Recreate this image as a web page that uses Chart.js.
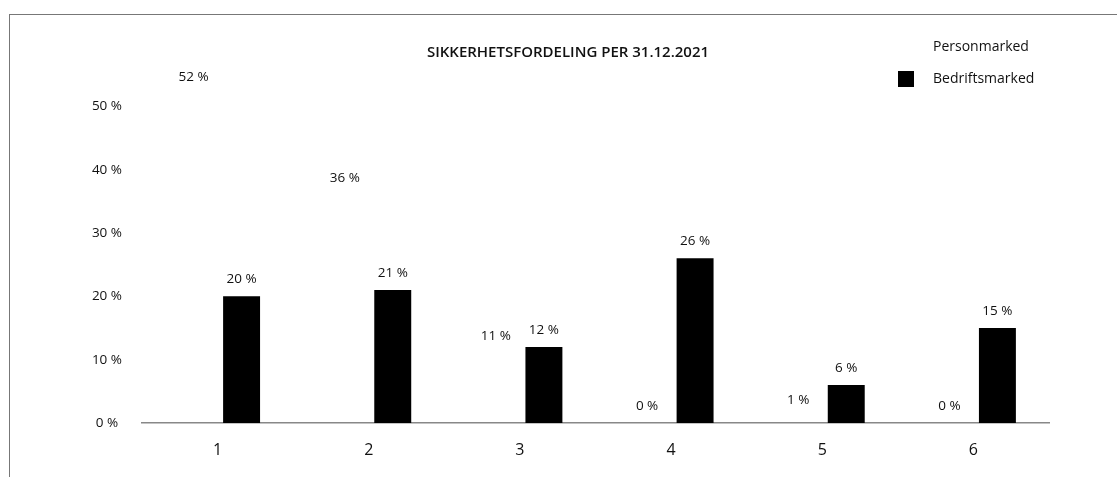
<!DOCTYPE html>
<html lang="no">
<head>
    <meta charset="UTF-8">
    <title>Sikkerhetsfordeling</title>
    <style>
        body {
            margin: 0;
            padding: 0;
            background: #fff;
            overflow: hidden;
            font-family: "Open Sans", sans-serif;
        }
        .wrap {
            position: relative;
            width: 1117px;
            height: 477px;
        }
        .frame {
            position: absolute;
            left: 9px;
            top: 14px;
            right: 0;
            bottom: 0;
            border-top: 1px solid #777;
            border-left: 1px solid #777;
        }
        canvas {
            position: absolute;
            left: 0;
            top: 0;
        }
    </style>
    <script src="https://cdn.jsdelivr.net/npm/chart.js"></script>
</head>
<body>
    <div class="wrap">
        <div class="frame"></div>
        <canvas id="chart" width="1117" height="477"></canvas>
    </div>
    <script>
        const chartTitle = 'SIKKERHETSFORDELING PER 31.12.2021';
        const categories = ['1', '2', '3', '4', '5', '6'];
        const personmarked = [52, 36, 11, 0, 1, 0];
        const bedriftsmarked = [20, 21, 12, 26, 6, 15];
        const yTicks = [0, 10, 20, 30, 40, 50];

        const font = '"Open Sans", sans-serif';

        // value labels above each bar, title and legend drawn onto the canvas
        const overlay = {
            id: 'overlay',
            afterDraw(chart) {
                const ctx = chart.ctx;
                ctx.save();
                ctx.fillStyle = '#111';
                ctx.font = '13.5px ' + font;
                ctx.textAlign = 'center';
                ctx.textBaseline = 'middle';
                chart.data.datasets.forEach((ds, i) => {
                    chart.getDatasetMeta(i).data.forEach((bar, j) => {
                        ctx.fillText(ds.data[j] + ' %', bar.x, bar.y - 17);
                    });
                });

                ctx.font = '600 15px ' + font;
                ctx.fillText(chartTitle, 568, 53);

                ctx.textAlign = 'left';
                ctx.font = '14px ' + font;
                chart.data.datasets.forEach((ds, i) => {
                    const y = 47 + i * 32;
                    ctx.fillStyle = ds.backgroundColor;
                    ctx.fillRect(898, y - 8, 16, 16);
                    ctx.fillStyle = '#111';
                    ctx.fillText(ds.label, 933, y);
                });
                ctx.restore();
            }
        };

        new Chart(document.getElementById('chart'), {
            type: 'bar',
            data: {
                labels: categories,
                datasets: [
                    {
                        label: 'Personmarked',
                        data: personmarked,
                        // white bars on white: invisible in the original
                        backgroundColor: 'rgba(255, 255, 255, 0)'
                    },
                    {
                        label: 'Bedriftsmarked',
                        data: bedriftsmarked,
                        backgroundColor: '#000000'
                    }
                ]
            },
            options: {
                responsive: false,
                animation: false,
                categoryPercentage: 0.635,
                barPercentage: 0.77,
                layout: {
                    padding: { left: 0, top: 43, right: 68, bottom: 0 }
                },
                plugins: {
                    legend: { display: false },
                    title: { display: false },
                    tooltip: { enabled: false }
                },
                scales: {
                    x: {
                        grid: { display: false, drawTicks: false },
                        border: { display: true, color: '#888', width: 1.5 },
                        ticks: {
                            color: '#111',
                            font: { family: font, size: 16 },
                            padding: 18
                        },
                        afterFit(s) { s.height = 54; }
                    },
                    y: {
                        min: 0,
                        max: 60,
                        grid: { display: false, drawTicks: false },
                        border: { display: false },
                        afterBuildTicks(s) {
                            s.ticks = yTicks.map(v => ({ value: v }));
                        },
                        ticks: {
                            color: '#111',
                            crossAlign: 'center',
                            padding: 20,
                            font: { family: font, size: 13.5 },
                            callback: v => v + ' %'
                        },
                        afterFit(s) { s.width = 142; }
                    }
                }
            },
            plugins: [overlay]
        });
    </script>
</body>
</html>
